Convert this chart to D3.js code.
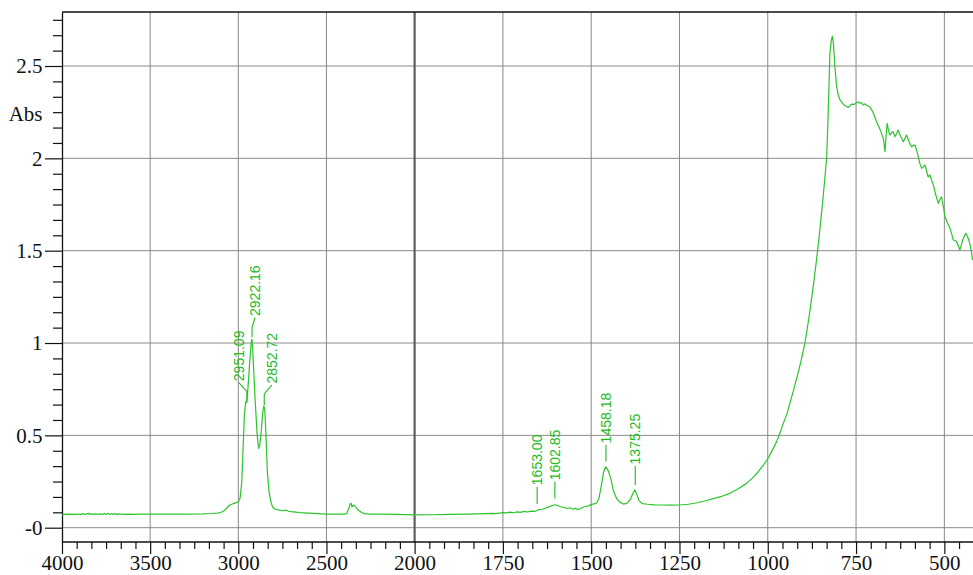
<!DOCTYPE html>
<html>
<head>
<meta charset="utf-8">
<script src="https://cdn.jsdelivr.net/npm/d3@7/dist/d3.min.js"></script>
<style>
  html, body { margin: 0; padding: 0; background: #fff; }
  svg { display: block; }
</style>
</head>
<body>
<svg id="chart" width="973" height="575"></svg>
<script>
// ---------------- DATA ----------------
const wavenumber = [
  4000,3990,3960,3930,3900,3890,3880,3870,3860,3850,3845,3835,3825,3815,3800,3790,3780,3770,3760,3750,
  3740,3730,3720,3710,3700,3690,3680,3670,3660,3640,3620,3600,3550,3500,3450,3400,3300,3200,3150,3120,
  3100,3080,3060,3048,3030,3010,3000,2990,2980,2972,2965,2958,2951,2945,2935,2928,2924,2922,2918,2905,
  2893,2885,2878,2870,2862,2855,2850,2843,2835,2825,2815,2805,2790,2760,2740,2730,2715,2700,2650,2600,
  2550,2500,2450,2400,2385,2375,2365,2360,2355,2350,2344,2330,2315,2300,2285,2250,2200,2100,2050,2000,
  1950,1900,1850,1800,1780,1770,1760,1750,1740,1730,1720,1710,1700,1690,1680,1670,1660,1650,1640,1630,
  1620,1610,1602,1595,1585,1575,1568,1560,1553,1545,1538,1530,1522,1515,1508,1500,1490,1484,1478,1472,
  1465,1459,1452,1445,1437,1428,1418,1409,1400,1390,1382,1376,1370,1364,1355,1340,1320,1300,1275,1250,
  1225,1200,1175,1150,1130,1107,1085,1060,1040,1027,1012,999,987,975,965,956,946,937,927,918,
  906,895,888,881,871,862,855,847,840,833,828,824,820,817,814,810,805,800,795,791,
  785,778,772,767,762,755,750,744,740,735,730,725,718,711,705,701,696,692,685,678,
  672,668,665,662,658,654,649,645,640,635,631,624,616,611,607,600,593,588,583,578,
  574,569,564,559,555,550,546,541,536,531,524,517,512,508,503,498,491,484,479,475,
  470,465,460,456,452,448,443,439,433,428,424,420
];
const absorbance = [
  0.068,0.072,0.073,0.072,0.074,0.072,0.076,0.071,0.075,0.078,0.072,0.076,0.071,0.075,0.073,0.072,0.076,0.071,0.077,0.072,
  0.078,0.071,0.076,0.072,0.077,0.071,0.075,0.072,0.074,0.072,0.073,0.072,0.073,0.073,0.073,0.074,0.074,0.075,0.077,0.079,
  0.082,0.092,0.112,0.123,0.130,0.136,0.140,0.160,0.250,0.450,0.620,0.680,0.690,0.760,0.900,0.990,1.020,1.015,0.960,0.700,
  0.500,0.430,0.450,0.520,0.620,0.660,0.640,0.500,0.300,0.190,0.140,0.110,0.100,0.094,0.092,0.096,0.089,0.087,0.082,0.079,
  0.076,0.074,0.074,0.074,0.076,0.100,0.130,0.132,0.112,0.120,0.122,0.106,0.092,0.082,0.076,0.074,0.073,0.072,0.071,0.069,
  0.070,0.072,0.073,0.076,0.078,0.076,0.079,0.082,0.080,0.084,0.081,0.086,0.083,0.088,0.085,0.090,0.088,0.097,0.100,0.105,
  0.113,0.120,0.124,0.120,0.112,0.108,0.104,0.108,0.100,0.105,0.098,0.104,0.112,0.115,0.118,0.125,0.130,0.135,0.160,0.220,
  0.300,0.330,0.310,0.270,0.200,0.158,0.137,0.128,0.132,0.150,0.185,0.205,0.175,0.145,0.130,0.127,0.124,0.123,0.122,0.123,
  0.127,0.135,0.146,0.160,0.170,0.186,0.210,0.240,0.275,0.303,0.340,0.376,0.420,0.466,0.515,0.565,0.615,0.676,0.745,0.810,
  0.900,0.998,1.080,1.169,1.309,1.449,1.568,1.717,1.857,2.009,2.300,2.570,2.640,2.662,2.620,2.500,2.388,2.340,2.315,2.306,
  2.290,2.282,2.276,2.285,2.294,2.292,2.300,2.306,2.298,2.302,2.289,2.295,2.285,2.279,2.260,2.244,2.220,2.198,2.170,2.135,
  2.100,2.036,2.120,2.190,2.150,2.126,2.140,2.144,2.117,2.135,2.153,2.120,2.090,2.110,2.126,2.090,2.063,2.070,2.072,2.040,
  2.009,1.970,1.946,1.955,1.964,1.930,1.900,1.910,1.880,1.855,1.800,1.756,1.780,1.792,1.740,1.684,1.650,1.621,1.590,1.558,
  1.555,1.548,1.525,1.504,1.530,1.558,1.580,1.594,1.570,1.540,1.500,1.449
];

const xMajorTicks = [4000, 3500, 3000, 2500, 2000, 1750, 1500, 1250, 1000, 750, 500];
const yMajorTicks = [0, 0.5, 1, 1.5, 2, 2.5];
const yTickLabels = ["-0", "0.5", "1", "1.5", "2", "2.5"];
const yAxisTitle = "Abs";

const peakWn = [2951.09, 2922.16, 2852.72, 1653.00, 1602.85, 1458.18, 1375.25];
const peakText = ["2951.09", "2922.16", "2852.72", "1653.00", "1602.85", "1458.18", "1375.25"];

// ---------------- LAYOUT ----------------
const W = 973, H = 575;
const L = 62, R = 972.6, T = 12, B = 542;
// label leader layout (offsets in px)
const lblDx   = [-8, 3, 7.5, 0, 0, 0, 0];
const lblGap  = [-3, 3, 2.5, 6.3, 6.5, 5.6, 5.6];
const lblStem = [11.6, 9.4, 11, 17.3, 16.6, 16.7, 19];
const lblDiag = [9, 10.3, 9, 0, 0, 0, 0];

const svg = d3.select("#chart");

// x scale with a break in scale at 2000 cm-1
const x = d3.scaleLinear().domain([4000, 2000, 420]).range([L, 414.6, R]);
// y: 0 -> 527.7, 2.5 -> 66
const k = (527.7 - 66) / 2.5;
const y = d3.scaleLinear().domain([-(B - 527.7) / k, 2.5 + (66 - T) / k]).range([B, T]);

// minor ticks
const xMinor = [];
for (let i = 0; i < xMajorTicks.length; i++) {
  const a = xMajorTicks[i];
  const b = i < xMajorTicks.length - 1 ? xMajorTicks[i + 1] : a - 250;
  for (let j = 1; j < 6; j++) {
    const v = a + (b - a) * j / 6;
    if (v >= 420) xMinor.push(v);
  }
}
const yMinor = [];
for (let v = -0.5; v <= 3; v += 0.5) {
  for (let j = 1; j < 6; j++) {
    const t = v + 0.5 * j / 6;
    const py = y(t);
    if (py >= T && py <= B) yMinor.push(t);
  }
}

// grid
const grid = svg.append("g");
grid.selectAll("line.h").data(yMajorTicks).join("line")
  .attr("x1", L).attr("x2", W)
  .attr("y1", d => y(d)).attr("y2", d => y(d))
  .attr("stroke", "#8c8c8c").attr("stroke-width", 1);
grid.selectAll("line.v").data(xMajorTicks.filter(d => d !== 4000)).join("line")
  .attr("x1", d => x(d)).attr("x2", d => x(d))
  .attr("y1", T).attr("y2", B)
  .attr("stroke", d => d === 2000 ? "#5e5e5e" : "#888")
  .attr("stroke-width", d => d === 2000 ? 2.2 : 1);

// top border
svg.append("line").attr("x1", L).attr("x2", W).attr("y1", T).attr("y2", T)
  .attr("stroke", "#111").attr("stroke-width", 1.3);

// axes
const fontSerif = "'Liberation Serif', 'Times New Roman', serif";
const xAxis = d3.axisBottom(x).tickValues(xMajorTicks).tickSize(12).tickSizeOuter(0)
  .tickPadding(1).tickFormat(d3.format("d"));
const gx = svg.append("g").attr("transform", `translate(0,${B})`).call(xAxis);
gx.select(".domain").attr("d", `M${L},0H${W}`);
const gxm = svg.append("g").attr("transform", `translate(0,${B})`)
  .call(d3.axisBottom(x).tickValues(xMinor).tickSize(7).tickSizeOuter(0).tickFormat(""));
gxm.select(".domain").remove();

const yAxis = d3.axisLeft(y).tickValues(yMajorTicks).tickSize(17).tickSizeOuter(0)
  .tickPadding(2.5).tickFormat((d, i) => yTickLabels[i]);
const gy = svg.append("g").attr("transform", `translate(${L},0)`).call(yAxis);
const gym = svg.append("g").attr("transform", `translate(${L},0)`)
  .call(d3.axisLeft(y).tickValues(yMinor).tickSize(9).tickSizeOuter(0).tickFormat(""));
gym.select(".domain").remove();

[gx, gxm, gy, gym].forEach(g => {
  g.selectAll("line").attr("stroke", "#111").attr("stroke-width", 1.2);
  g.selectAll(".domain").attr("stroke", "#111").attr("stroke-width", 1.3);
  g.selectAll("text").attr("font-family", fontSerif).attr("font-size", 21).attr("fill", "#111");
});

svg.append("text").attr("x", 42.5).attr("y", 113.5).attr("dy", "0.35em")
  .attr("text-anchor", "end").attr("font-family", fontSerif).attr("font-size", 21)
  .attr("fill", "#111").text(yAxisTitle);

// spectrum
const pts = wavenumber.map((w, i) => [w, absorbance[i]]);
const clip = svg.append("clipPath").attr("id", "clip").append("rect")
  .attr("x", L).attr("y", T).attr("width", W - L).attr("height", B - T);
svg.append("path").datum(pts)
  .attr("clip-path", "url(#clip)")
  .attr("fill", "none").attr("stroke", "#2cc42c").attr("stroke-width", 1.2)
  .attr("stroke-linejoin", "round")
  .attr("d", d3.line().x(d => x(d[0])).y(d => y(d[1])));

// interpolation of the spectrum for label placement
function absAt(w) {
  for (let i = 0; i < wavenumber.length - 1; i++) {
    const a = wavenumber[i], b = wavenumber[i + 1];
    if (w <= a && w >= b) {
      const t = (a - w) / (a - b);
      return absorbance[i] + t * (absorbance[i + 1] - absorbance[i]);
    }
  }
  return 0;
}

const labelColor = "#1dbb1d";
const gl = svg.append("g");
peakWn.forEach((w, i) => {
  const px = x(w);
  const cy = y(absAt(w));
  const yb = cy - lblGap[i];
  const yt = yb - lblStem[i];
  const tx = px + lblDx[i];
  const yd = yt - lblDiag[i];
  gl.append("path")
    .attr("d", `M${px},${yb}L${px},${yt}L${tx},${yd}`)
    .attr("fill", "none").attr("stroke", labelColor).attr("stroke-width", 1.1);
  gl.append("text")
    .attr("transform", `translate(${tx},${yd - 1.5}) rotate(-90)`)
    .attr("dy", "0.35em")
    .attr("text-anchor", "start")
    .attr("font-family", "'Liberation Sans', Arial, sans-serif")
    .attr("font-size", 14)
    .attr("fill", labelColor)
    .text(peakText[i]);
});
</script>
</body>
</html>
